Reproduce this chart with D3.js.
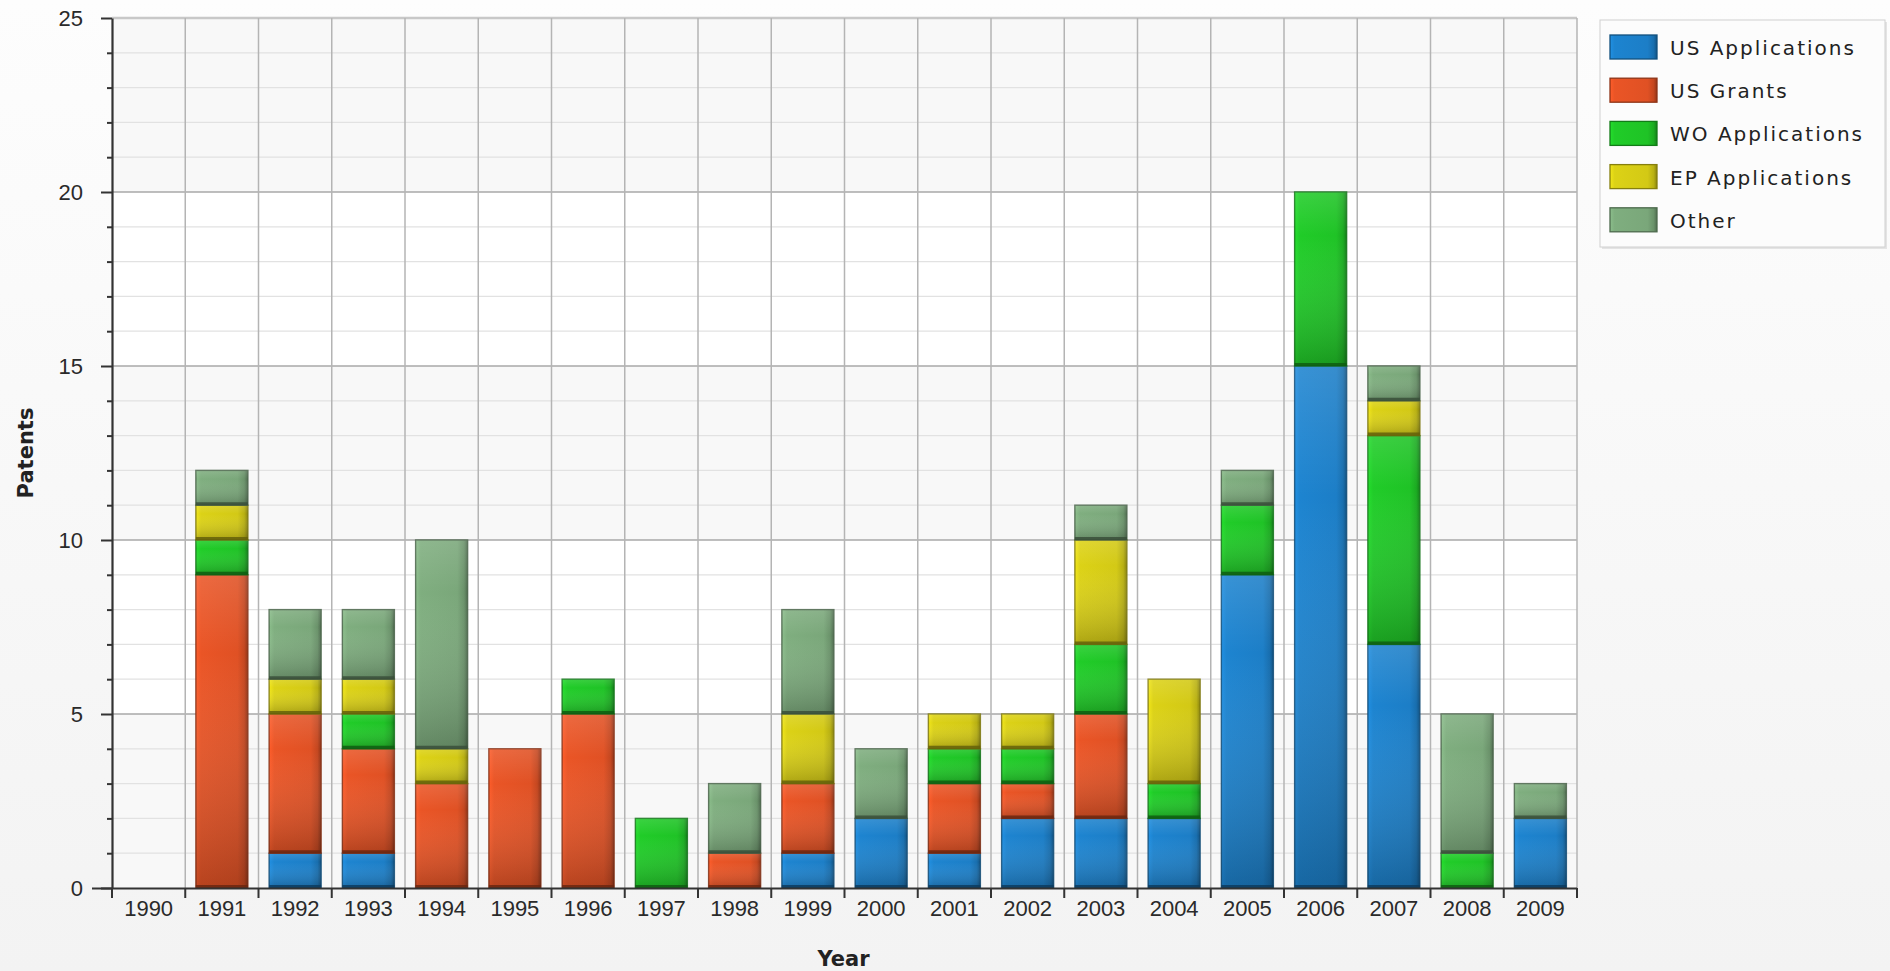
<!DOCTYPE html>
<html>
<head>
<meta charset="utf-8">
<script src="https://cdn.jsdelivr.net/npm/d3@7"></script>
<style>
  html, body { margin: 0; padding: 0; }
  body { width: 1890px; height: 971px; overflow: hidden; background: #f6f6f6; }
</style>
</head>
<body>
<svg id="chart" width="1890" height="971"></svg>
<script>
// ---- data ----
const years = ["1990","1991","1992","1993","1994","1995","1996","1997","1998","1999",
               "2000","2001","2002","2003","2004","2005","2006","2007","2008","2009"];
const seriesNames = ["US Applications","US Grants","WO Applications","EP Applications","Other"];
const usApplications = [0,0,1,1,0,0,0,0,0,1,2,1,2,2,2,9,15,7,0,2];
const usGrants       = [0,9,4,3,3,4,5,0,1,2,0,2,1,3,0,0,0,0,0,0];
const woApplications = [0,1,0,1,0,0,1,2,0,0,0,1,1,2,1,2,5,6,1,0];
const epApplications = [0,1,1,1,1,0,0,0,0,2,0,1,1,3,3,0,0,1,0,0];
const other          = [0,1,2,2,6,0,0,0,2,3,2,0,0,1,0,1,0,1,4,1];
const seriesColors   = ["#1d84d0","#ea5526","#20cc28","#dcd216","#7fae7f"];
const yTicks = [0,5,10,15,20,25];
const xTitle = "Year";
const yTitle = "Patents";

// ---- layout ----
const svg = d3.select("#chart");
const pL = 112, pR = 1577, pT = 18, pB = 888;

const seriesArrays = [usApplications, usGrants, woApplications, epApplications, other];
const rows = years.map((yr, i) => {
  const r = { year: yr };
  seriesNames.forEach((s, k) => r[s] = seriesArrays[k][i]);
  return r;
});
const stacked = d3.stack().keys(seriesNames)(rows);

const xSlot = d3.scaleBand().domain(years).range([pL, pR]).padding(0);
const x = d3.scaleBand().domain(years).range([pL, pR]).paddingInner(0.29).paddingOuter(0.145);
const y = d3.scaleLinear().domain([0, 25]).range([pB, pT]);
const color = d3.scaleOrdinal().domain(seriesNames).range(seriesColors);

// ---- defs ----
const defs = svg.append("defs");
const bgGrad = defs.append("linearGradient").attr("id","bg").attr("x1",0).attr("y1",0).attr("x2",0).attr("y2",1);
bgGrad.append("stop").attr("offset",0).attr("stop-color","#fdfdfd");
bgGrad.append("stop").attr("offset",1).attr("stop-color","#f3f3f3");

seriesNames.forEach((s, k) => {
  const c = d3.color(color(s));
  const g = defs.append("linearGradient").attr("id","g"+k).attr("x1",0).attr("y1",0).attr("x2",1).attr("y2",0);
  g.append("stop").attr("offset",0).attr("stop-color", c.brighter(0.25));
  g.append("stop").attr("offset",0.1).attr("stop-color", c);
  g.append("stop").attr("offset",0.8).attr("stop-color", c.darker(0.12));
  g.append("stop").attr("offset",0.93).attr("stop-color", c.darker(0.5));
  g.append("stop").attr("offset",1).attr("stop-color", c.darker(1.3));
});
const ov = defs.append("linearGradient").attr("id","ov").attr("x1",0).attr("y1",0).attr("x2",0).attr("y2",1);
ov.append("stop").attr("offset",0).attr("stop-color","#fff").attr("stop-opacity",0.12);
ov.append("stop").attr("offset",0.25).attr("stop-color","#fff").attr("stop-opacity",0.0);
ov.append("stop").attr("offset",1).attr("stop-color","#000").attr("stop-opacity",0.22);

svg.append("rect").attr("width",1890).attr("height",971).attr("fill","url(#bg)");

// plot area + alternating bands
svg.append("rect").attr("x",pL).attr("y",pT).attr("width",pR-pL).attr("height",pB-pT).attr("fill","#ffffff");
const bands = [[0,5],[10,15],[20,25]];
svg.append("g").selectAll("rect").data(bands).join("rect")
  .attr("x", pL).attr("width", pR-pL)
  .attr("y", d => y(d[1])).attr("height", d => y(d[0]) - y(d[1]))
  .attr("fill", "#f8f8f8");

// minor horizontal gridlines
const minor = d3.range(0, 26).filter(v => v % 5 !== 0);
svg.append("g").selectAll("line").data(minor).join("line")
  .attr("x1", pL).attr("x2", pR)
  .attr("y1", d => y(d)).attr("y2", d => y(d))
  .attr("stroke", "#e2e2e2").attr("stroke-width", 1.2);
// major horizontal gridlines
svg.append("g").selectAll("line").data(yTicks.filter(v => v > 0)).join("line")
  .attr("x1", pL).attr("x2", pR)
  .attr("y1", d => y(d)).attr("y2", d => y(d))
  .attr("stroke", d => d === 25 ? "#c8c8c8" : "#a8a8a8").attr("stroke-width", d => d === 25 ? 2.5 : 1.5);
// vertical gridlines at category boundaries
const bounds = years.slice(1).map(yr => xSlot(yr)).concat([pR]);
svg.append("g").selectAll("line").data(bounds).join("line")
  .attr("x1", d => d).attr("x2", d => d)
  .attr("y1", pT).attr("y2", pB)
  .attr("stroke", "#b4b4b4").attr("stroke-width", 1.5);

// ---- bars ----
const barG = svg.append("g");
stacked.forEach((layer, k) => {
  const g = barG.append("g");
  const segs = layer.map((d, i) => ({ y0: d[0], y1: d[1], year: years[i] })).filter(d => d.y1 > d.y0);
  g.selectAll("rect.b").data(segs).join("rect").attr("class","b")
    .attr("x", d => x(d.year)).attr("width", x.bandwidth())
    .attr("y", d => y(d.y1)).attr("height", d => y(d.y0) - y(d.y1))
    .attr("fill", "url(#g"+k+")")
    .attr("stroke", d3.color(seriesColors[k]).darker(1.6)).attr("stroke-width", 1.4).attr("stroke-opacity", 0.85);
  g.selectAll("rect.o").data(segs).join("rect").attr("class","o")
    .attr("x", d => x(d.year)).attr("width", x.bandwidth())
    .attr("y", d => y(d.y1)).attr("height", d => y(d.y0) - y(d.y1))
    .attr("fill", "url(#ov)");
  g.selectAll("line.e").data(segs).join("line").attr("class","e")
    .attr("x1", d => x(d.year)).attr("x2", d => x(d.year) + x.bandwidth())
    .attr("y1", d => y(d.y0) - 1.5).attr("y2", d => y(d.y0) - 1.5)
    .attr("stroke", d3.color(seriesColors[k]).darker(2.2)).attr("stroke-width", 3).attr("stroke-opacity", 0.85);
});

// ---- axes ----
const tickFont = "'Liberation Sans', Arial, sans-serif";
const yAxis = svg.append("g").attr("transform", `translate(${pL},0)`)
  .call(d3.axisLeft(y).tickValues(yTicks).tickSize(11).tickPadding(18).tickSizeOuter(0));
const yMinor = svg.append("g").attr("transform", `translate(${pL},0)`)
  .call(d3.axisLeft(y).tickValues(minor).tickSize(5).tickFormat("").tickSizeOuter(0));
yMinor.select(".domain").remove();

const xAxis = svg.append("g").attr("transform", `translate(0,${pB})`)
  .call(d3.axisBottom(x).tickSize(0).tickPadding(12).tickSizeOuter(0));
xAxis.select(".domain").attr("d", `M${pL - 20},0.5H${pR}`);
svg.append("g").selectAll("line").data([pL].concat(bounds)).join("line")
  .attr("x1", d => d).attr("x2", d => d).attr("y1", pB).attr("y2", pB + 10)
  .attr("stroke", "#333").attr("stroke-width", 2);

[yAxis, yMinor, xAxis].forEach(a => {
  a.selectAll(".domain").attr("stroke", "#333").attr("stroke-width", 2.2);
  a.selectAll(".tick line").attr("stroke", "#333").attr("stroke-width", 2);
  a.selectAll("text").attr("font-family", tickFont).attr("font-size", 22).attr("fill", "#2a2a2a");
});

// titles
svg.append("text").attr("x", (pL + pR) / 2 - 1).attr("y", 966)
  .attr("text-anchor", "middle").attr("font-family", "'DejaVu Sans', Verdana, sans-serif")
  .attr("font-weight", "bold").attr("font-size", 21).attr("fill", "#222").text(xTitle);
svg.append("text").attr("transform", `translate(33,${(pT + pB) / 2}) rotate(-90)`)
  .attr("text-anchor", "middle").attr("font-family", "'DejaVu Sans', Verdana, sans-serif")
  .attr("font-weight", "bold").attr("font-size", 21).attr("fill", "#222").text(yTitle);

// ---- legend ----
const lg = svg.append("g");
lg.append("rect").attr("x", 1602).attr("y", 22).attr("width", 285).attr("height", 227).attr("fill", "#e4e4e4");
lg.append("rect").attr("x", 1600).attr("y", 20).attr("width", 285).attr("height", 227)
  .attr("fill", "#fcfcfc").attr("stroke", "#d0d0d0").attr("stroke-width", 1);
const items = lg.selectAll("g.item").data(seriesNames).join("g").attr("class","item")
  .attr("transform", (d, i) => `translate(1610,${35 + i * 43.2})`);
items.append("rect").attr("width", 47).attr("height", 24)
  .attr("fill", (d, i) => "url(#g"+i+")")
  .attr("stroke", (d, i) => d3.color(seriesColors[i]).darker(1.4)).attr("stroke-width", 1.3);
items.append("text").attr("x", 60).attr("y", 20)
  .attr("font-family", "'DejaVu Sans', Verdana, sans-serif").attr("font-size", 20)
  .attr("letter-spacing", 2).attr("fill", "#222").text(d => d);
</script>
</body>
</html>
